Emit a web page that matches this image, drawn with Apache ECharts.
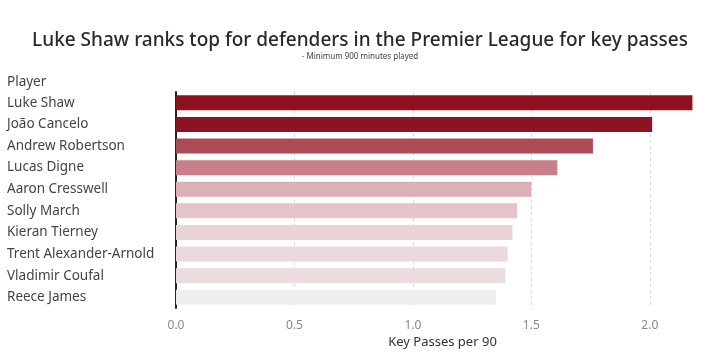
<!DOCTYPE html>
<html>
<head>
<meta charset="utf-8">
<script src="https://cdn.jsdelivr.net/npm/echarts@6/dist/echarts.min.js"></script>
<style>
  html, body { margin: 0; padding: 0; background: #fff; }
  #chart { width: 720px; height: 354px; }
</style>
</head>
<body>
<div id="chart"></div>
<script>
// ====== 数据 ======
const players = [
  "Luke Shaw", "João Cancelo", "Andrew Robertson", "Lucas Digne", "Aaron Cresswell",
  "Solly March", "Kieran Tierney", "Trent Alexander-Arnold", "Vladimir Coufal", "Reece James"
];
const keyPasses = [2.18, 2.01, 1.76, 1.61, 1.50, 1.44, 1.42, 1.40, 1.39, 1.35];
const xTicks = [0, 0.5, 1.0, 1.5, 2.0];

// bar shades, darkest for the top value
const barColors = [
  "#8c1220", "#8e1322", "#ad4a58", "#c78089", "#dbb0b6",
  "#e3c5c9", "#e8d3d5", "#ead8da", "#ebdddd", "#eeeeee"
];

const chart = echarts.init(document.getElementById("chart"));
const font = "Noto Sans";

chart.setOption({
  backgroundColor: "#fff",
  animation: false,
  textStyle: { fontFamily: font },
  title: {
    text: "Luke Shaw ranks top for defenders in the Premier League for key passes",
    subtext: "- Minimum 900 minutes played",
    left: "center",
    top: 26,
    itemGap: 3,
    textStyle: { fontSize: 19, fontWeight: 500, color: "#2a2a2a", fontFamily: font },
    subtextStyle: { fontSize: 8, color: "#444", fontFamily: font }
  },
  graphic: [{
    type: "text",
    left: 7,
    top: 75,
    style: { text: "Player", fontSize: 13.5, fill: "#444", fontFamily: font }
  }],
  grid: { left: 176, right: 11, top: 92, bottom: 44 },
  xAxis: {
    type: "value",
    min: 0,
    max: 2.25,
    interval: 0.5,
    name: "Key Passes per 90",
    nameLocation: "middle",
    nameGap: 27,
    nameTextStyle: { fontSize: 13, color: "#333" },
    axisLine: { show: false },
    axisTick: { show: false },
    axisLabel: {
      color: "#888",
      fontSize: 12,
      margin: 11,
      showMaxLabel: false,
      formatter: v => xTicks.includes(v) ? v.toFixed(1) : ""
    },
    splitLine: {
      show: true,
      showMinLine: false,
      showMaxLine: false,
      lineStyle: { color: "#d8d8d8", type: [3, 3], width: 1 }
    }
  },
  yAxis: {
    type: "category",
    data: players,
    inverse: true,
    axisLine: { show: true, lineStyle: { color: "#222", width: 2 } },
    axisTick: { show: false },
    axisLabel: {
      align: "left",
      margin: 169,
      fontSize: 13.5,
      color: "#444",
      padding: [0, 0, 2, 0]
    }
  },
  series: [{
    type: "bar",
    barWidth: 15,
    data: keyPasses.map((v, i) => ({
      value: v,
      itemStyle: { color: barColors[i] }
    }))
  }]
});
</script>
</body>
</html>
